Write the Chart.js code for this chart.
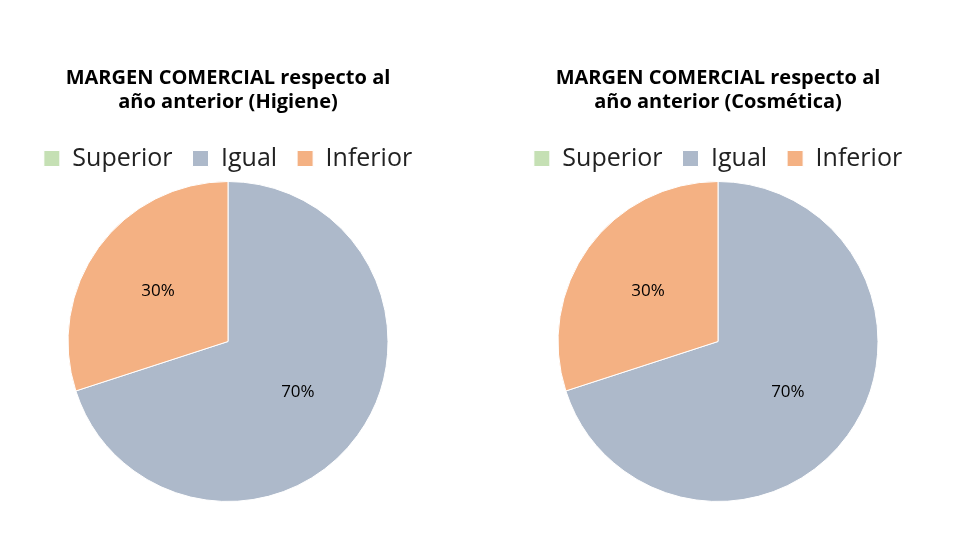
<!DOCTYPE html>
<html><head><meta charset="utf-8">
<script src="https://cdn.jsdelivr.net/npm/chart.js@4/dist/chart.umd.min.js"></script>
<style>body{margin:0;background:#fff;width:980px;height:560px;display:flex}
.c{width:490px;height:560px;position:relative}</style></head>
<body><div class="c"><canvas id="a"></canvas></div><div class="c"><canvas id="b"></canvas></div>
<script>
const categories = ['Superior','Igual','Inferior'];
const higieneValues = [0,70,30];
const cosmeticaValues = [0,70,30];
const titles = [['MARGEN COMERCIAL respecto al','año anterior (Higiene)'],['MARGEN COMERCIAL respecto al','año anterior (Cosmética)']];
const colors = ['#c5e0b4','#adb9ca','#f4b183'];
const labelPlugin = {id:'lbl',afterDatasetsDraw(chart){
  const ctx=chart.ctx; const meta=chart.getDatasetMeta(0); const data=chart.data.datasets[0].data;
  const tot=data.reduce((a,b)=>a+b,0);
  ctx.save(); ctx.font='17px "Open Sans"'; ctx.fillStyle='#000'; ctx.textAlign='center'; ctx.textBaseline='middle';
  meta.data.forEach((arc,i)=>{ if(!data[i]) return;
    const m=(arc.startAngle+arc.endAngle)/2, r=arc.outerRadius*0.54;
    ctx.fillText(Math.round(data[i]/tot*100)+'%', arc.x+Math.cos(m)*r, arc.y+Math.sin(m)*r);});
  ctx.restore();}};
function make(id,vals,title){
  new Chart(document.getElementById(id),{type:'pie',plugins:[labelPlugin],
    data:{labels:categories,datasets:[{data:vals,backgroundColor:colors,borderColor:'#fff',borderWidth:1}]},
    options:{responsive:true,maintainAspectRatio:false,animation:false,
      layout:{padding:{top:48,bottom:58,right:34}},
      plugins:{tooltip:{enabled:false},
        title:{display:true,text:title,color:'#000',font:{family:'"Open Sans"',size:20,weight:'bold'},padding:{top:18,bottom:12},lineHeight:1.5},
        legend:{position:'top',labels:{color:'#222',font:{family:'"Open Sans"',size:25},boxWidth:16,boxHeight:16,padding:20}}}}});
}
make('a',higieneValues,titles[0]); make('b',cosmeticaValues,titles[1]);
</script></body></html>
